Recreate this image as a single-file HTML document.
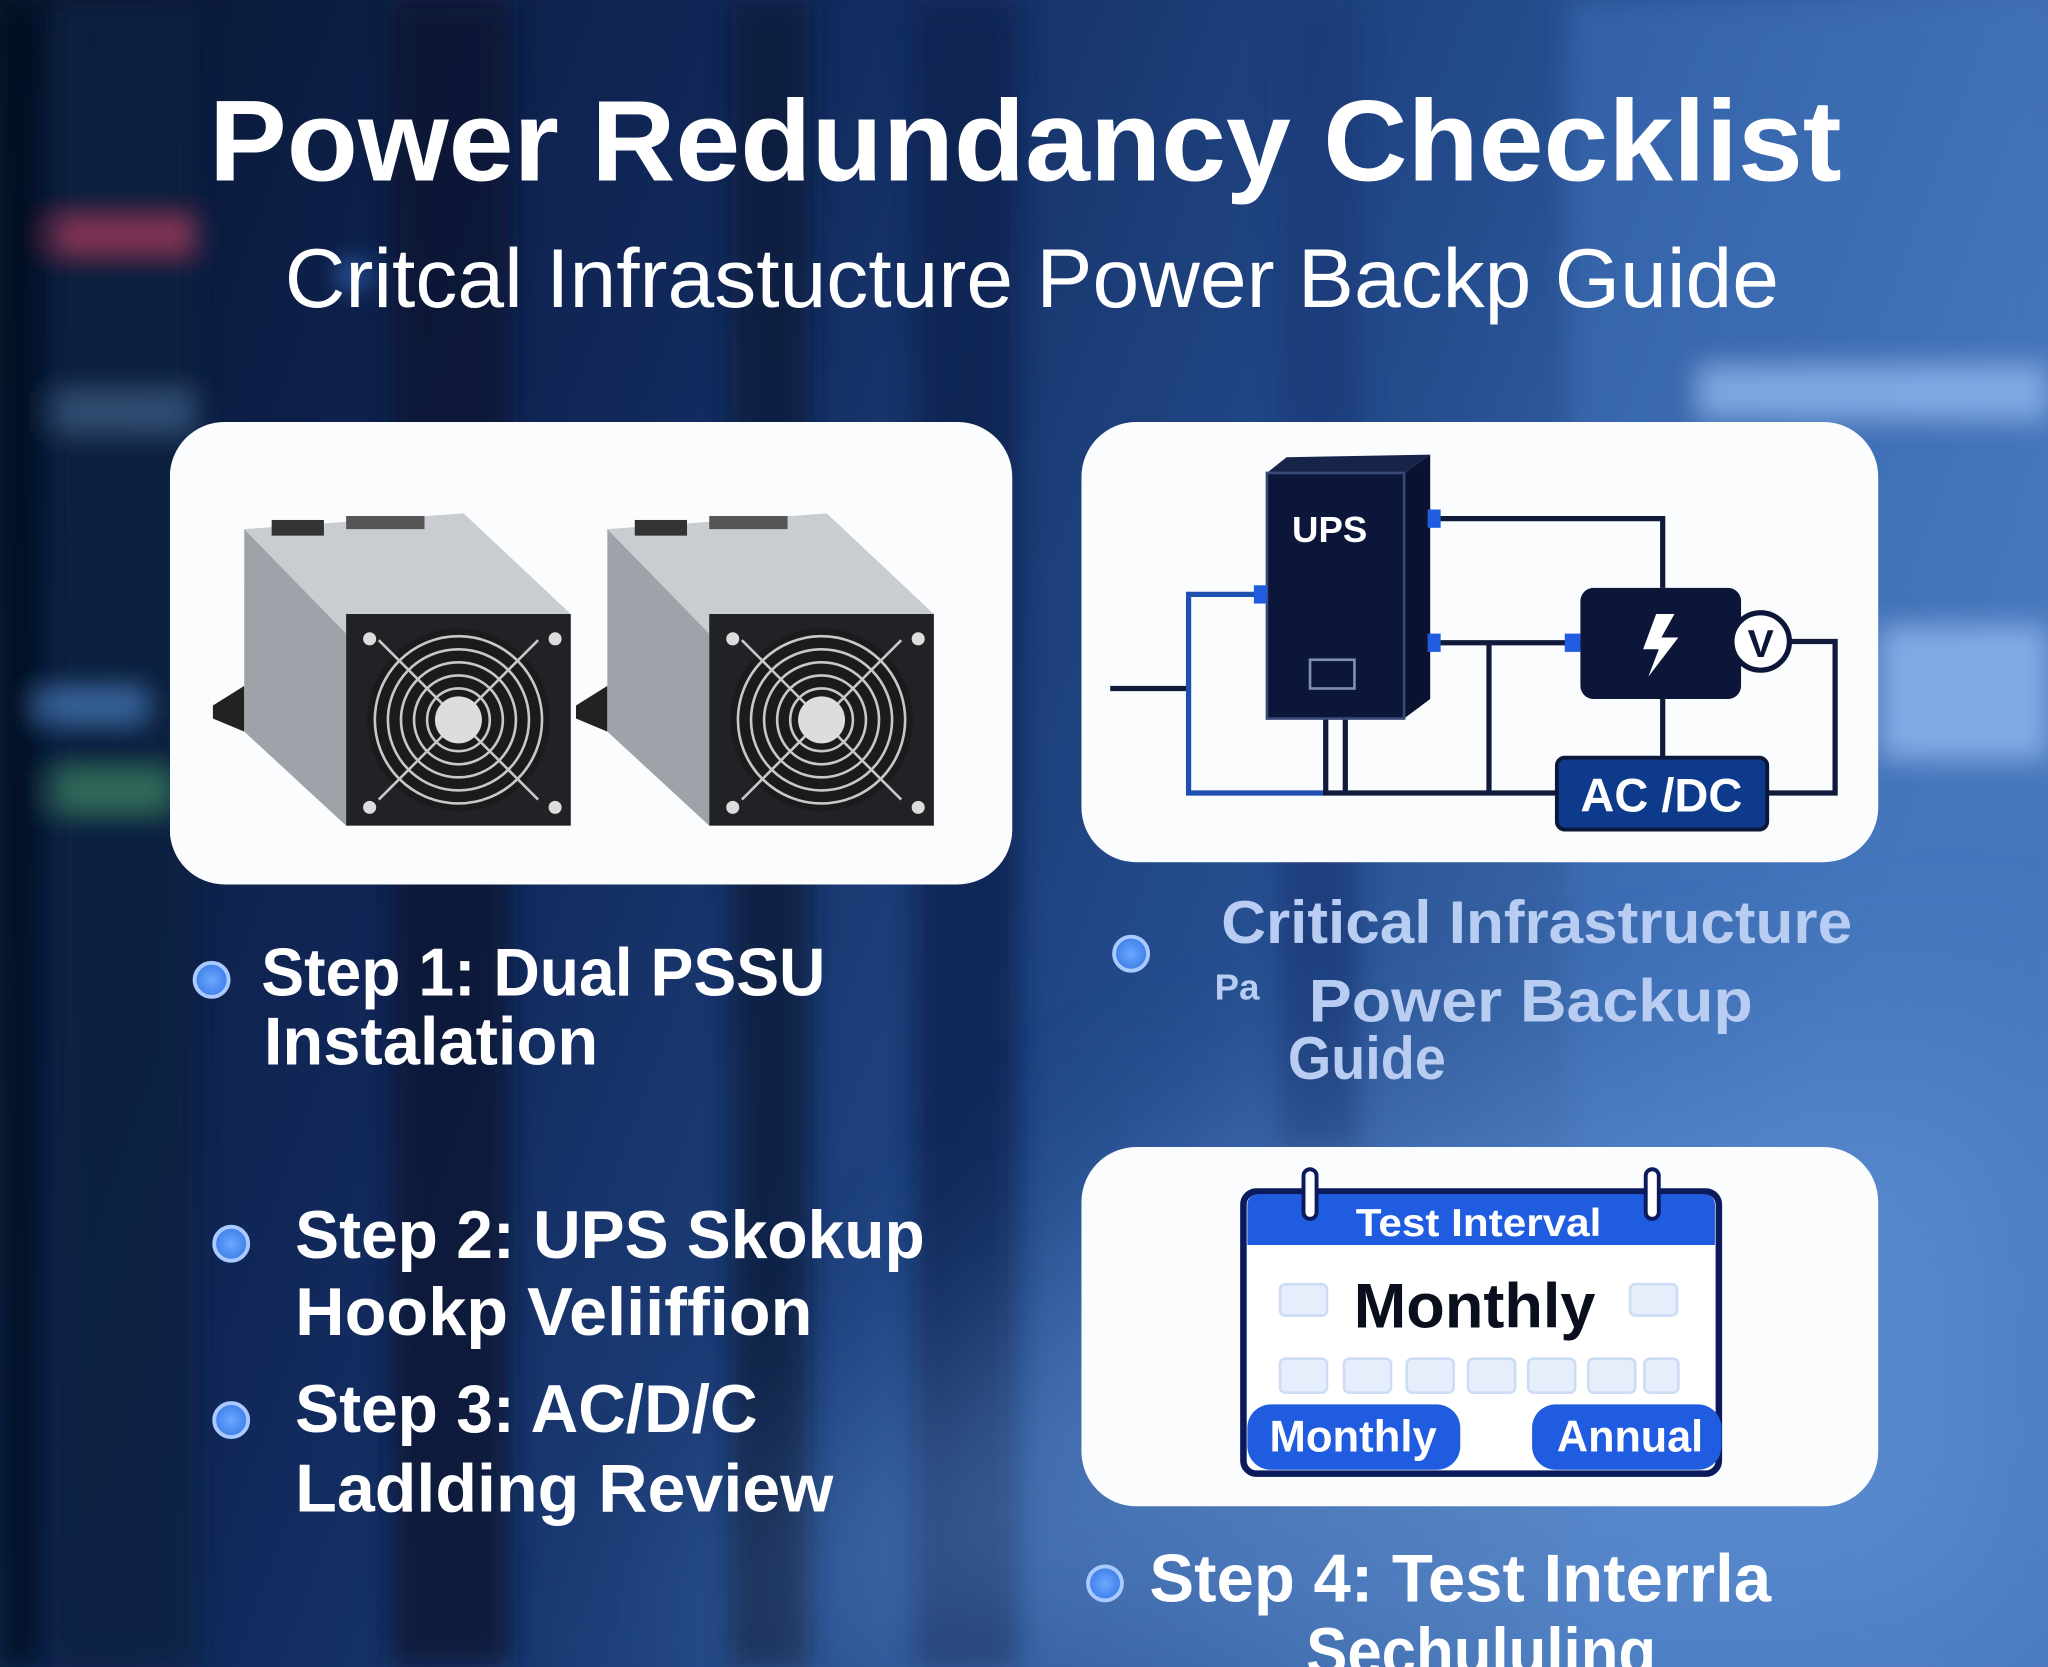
<!DOCTYPE html>
<html><head><meta charset="utf-8"><style>html,body{margin:0;padding:0;background:#0b1c3f}svg{display:block}</style></head><body>
<svg width="2048" height="1667" viewBox="0 0 1568 1276" preserveAspectRatio="none" xmlns="http://www.w3.org/2000/svg" font-family="Liberation Sans, sans-serif">
<defs>
<linearGradient id="bg" x1="0" y1="0" x2="1" y2="0.3">
<stop offset="0" stop-color="#081530"/><stop offset="0.35" stop-color="#11285a"/><stop offset="0.7" stop-color="#244d8e"/><stop offset="1" stop-color="#4a7abb"/></linearGradient>
<filter id="bl"><feGaussianBlur stdDeviation="10"/></filter>
<filter id="bl2" x="-50%" y="-50%" width="200%" height="200%"><feGaussianBlur stdDeviation="80"/></filter>
<radialGradient id="dot"><stop offset="0" stop-color="#6aa8ff"/><stop offset="1" stop-color="#3e7fe8"/></radialGradient>
</defs>
<rect width="1568" height="1276" fill="url(#bg)"/>
<g filter="url(#bl)" opacity="0.8">
<rect x="0" y="0" width="30" height="1276" fill="#06101f"/>
<rect x="40" y="0" width="110" height="1276" fill="#0d213f"/>
<rect x="300" y="0" width="90" height="1276" fill="#081530"/>
<rect x="560" y="0" width="60" height="1276" fill="#0a1a3a"/>
<rect x="700" y="0" width="80" height="1276" fill="#0c2150"/>
<rect x="980" y="0" width="60" height="880" fill="#1a3a78"/>
<rect x="1200" y="0" width="368" height="1276" fill="#3f74c0" opacity="0.6"/>
<rect x="40" y="170" width="110" height="20" fill="#b04060"/>
<rect x="40" y="300" width="110" height="30" fill="#3a5a80"/>
<rect x="30" y="530" width="80" height="20" fill="#4a80c0"/>
<rect x="40" y="590" width="90" height="30" fill="#3a8060"/>
<rect x="1300" y="280" width="268" height="40" fill="#90b8f0"/>
<rect x="1440" y="480" width="128" height="100" fill="#90b8f0"/>
<circle cx="270" cy="210" r="10" fill="#4a90ff"/>
</g>
<polygon points="500,1276 900,900 1568,800 1568,1276" fill="#6f9fe0" opacity="0.45" filter="url(#bl2)"/>

<text x="160" y="138" font-size="88" font-weight="bold" fill="#fff" textLength="1250" lengthAdjust="spacingAndGlyphs">Power Redundancy Checklist</text>
<text x="218" y="235" font-size="64" fill="#fff" textLength="1144" lengthAdjust="spacingAndGlyphs">Critcal Infrastucture Power Backp Guide</text>

<rect x="130" y="323" width="645" height="354" rx="42" fill="#fbfcfe"/>
<rect x="828" y="323" width="610" height="337" rx="42" fill="#fbfcfe"/>
<rect x="828" y="878" width="610" height="275" rx="42" fill="#fbfcfe"/>

<g id="psu">
<polygon points="163,540 187,525 187,560 163,550" fill="#222"/>
<polygon points="187,405 355,393 437,470 265,485" fill="#c9ccd0"/>
<polygon points="187,405 265,485 265,632 187,560" fill="#9ea3a9"/>
<rect x="265" y="470" width="172" height="162" fill="#202225"/>
<rect x="208" y="398" width="40" height="12" fill="#333"/>
<rect x="265" y="395" width="60" height="10" fill="#555"/>
<circle cx="351" cy="551" r="70" fill="#1a1b1d"/>
<g fill="none" stroke="#c8c8c8" stroke-width="2">
<circle cx="351" cy="551" r="64"/><circle cx="351" cy="551" r="54"/><circle cx="351" cy="551" r="44"/><circle cx="351" cy="551" r="34"/><circle cx="351" cy="551" r="24"/>
<line x1="290" y1="490" x2="412" y2="612"/><line x1="412" y1="490" x2="290" y2="612"/></g>
<circle cx="351" cy="551" r="18" fill="#ddd"/>
<circle cx="283" cy="489" r="5" fill="#ddd"/><circle cx="425" cy="489" r="5" fill="#ddd"/><circle cx="283" cy="618" r="5" fill="#ddd"/><circle cx="425" cy="618" r="5" fill="#ddd"/>
</g>
<use href="#psu" x="278" y="0"/>

<g fill="none" stroke-width="4">
<path d="M1095 397 H1273 V450" stroke="#101a3a"/>
<path d="M1095 492 H1210" stroke="#101a3a"/>
<path d="M850 527 H910" stroke="#101a3a"/>
<path d="M970 455 H910 V607 H1015" stroke="#1f4fb0"/>
<path d="M1015 550 V607 H1192" stroke="#101a3a"/>
<path d="M1030 550 V607" stroke="#101a3a"/>
<path d="M1140 492 V607" stroke="#101a3a"/>
<path d="M1273 535 V580" stroke="#101a3a"/>
<path d="M1370 491 H1405 V607 H1353" stroke="#101a3a"/>
</g>
<polygon points="970,362 985,350 1095,348 1075,362" fill="#17244a"/>
<polygon points="1075,362 1095,348 1095,535 1075,550" fill="#0a1230"/>
<rect x="970" y="362" width="105" height="188" fill="#0b1638" stroke="#3a4a78" stroke-width="2"/>
<text x="1018" y="415" font-size="28" font-weight="bold" fill="#fff" text-anchor="middle">UPS</text>
<rect x="1003" y="505" width="34" height="22" fill="none" stroke="#8090b0" stroke-width="2"/>
<rect x="1093" y="390" width="10" height="14" fill="#1f5ce0"/><rect x="1093" y="485" width="10" height="14" fill="#1f5ce0"/>
<rect x="960" y="448" width="10" height="14" fill="#1f5ce0"/><rect x="1198" y="485" width="12" height="14" fill="#1f5ce0"/>
<rect x="1210" y="450" width="123" height="85" rx="10" fill="#0b1638"/>
<polygon points="1268,470 1258,497 1270,497 1262,518 1285,488 1272,488 1282,470" fill="#fff"/>
<circle cx="1348" cy="491" r="22" fill="#fff" stroke="#0b1638" stroke-width="4"/>
<text x="1348" y="503" font-size="30" font-weight="bold" fill="#0b1638" text-anchor="middle">V</text>
<rect x="1192" y="580" width="161" height="55" rx="6" fill="#0d3a8a" stroke="#0b1638" stroke-width="3"/>
<text x="1272" y="621" font-size="36" font-weight="bold" fill="#fff" text-anchor="middle">AC  /DC</text>

<rect x="952" y="912" width="364" height="216" rx="10" fill="#fff" stroke="#0b1a5a" stroke-width="5"/>
<path d="M955 953 V922 a8 8 0 0 1 8 -8 H1305 a8 8 0 0 1 8 8 V953 Z" fill="#1f5ce0"/>
<rect x="998" y="895" width="10" height="38" rx="5" fill="#fff" stroke="#0b1a5a" stroke-width="3"/>
<rect x="1260" y="895" width="10" height="38" rx="5" fill="#fff" stroke="#0b1a5a" stroke-width="3"/>
<text x="1132" y="946" font-size="30" font-weight="bold" fill="#fff" text-anchor="middle" textLength="188" lengthAdjust="spacingAndGlyphs">Test Interval</text>
<g fill="#e6eefc" stroke="#cddcf5" stroke-width="2">
<rect x="980" y="983" width="36" height="24" rx="4"/><rect x="1248" y="983" width="36" height="24" rx="4"/>
<rect x="980" y="1040" width="36" height="26" rx="4"/><rect x="1029" y="1040" width="36" height="26" rx="4"/><rect x="1077" y="1040" width="36" height="26" rx="4"/><rect x="1124" y="1040" width="36" height="26" rx="4"/><rect x="1170" y="1040" width="36" height="26" rx="4"/><rect x="1216" y="1040" width="36" height="26" rx="4"/><rect x="1259" y="1040" width="26" height="26" rx="4"/>
</g>
<text x="1129" y="1016" font-size="48" font-weight="bold" fill="#0a0f1e" text-anchor="middle" textLength="185" lengthAdjust="spacingAndGlyphs">Monthly</text>
<rect x="955" y="1075" width="163" height="50" rx="18" fill="#1f5ce0"/>
<rect x="1173" y="1075" width="145" height="50" rx="18" fill="#1f5ce0"/>
<text x="1036" y="1111" font-size="34" font-weight="bold" fill="#fff" text-anchor="middle" textLength="128" lengthAdjust="spacingAndGlyphs">Monthly</text>
<text x="1248" y="1111" font-size="34" font-weight="bold" fill="#fff" text-anchor="middle" textLength="112" lengthAdjust="spacingAndGlyphs">Annual</text>

<g fill="url(#dot)" stroke="#a9c9ff" stroke-width="3">
<circle cx="162" cy="750" r="13"/><circle cx="866" cy="730" r="13"/><circle cx="177" cy="952" r="13"/><circle cx="177" cy="1087" r="13"/><circle cx="846" cy="1212" r="13"/>
</g>
<g font-weight="bold" font-size="52" fill="#fff">
<text x="200" y="762" textLength="432" lengthAdjust="spacingAndGlyphs">Step 1: Dual PSSU</text>
<text x="202" y="815" textLength="256" lengthAdjust="spacingAndGlyphs">Instalation</text>
<text x="226" y="963" textLength="482" lengthAdjust="spacingAndGlyphs">Step 2: UPS Skokup</text>
<text x="226" y="1022" textLength="396" lengthAdjust="spacingAndGlyphs">Hookp  Veliiffion</text>
<text x="226" y="1096" textLength="354" lengthAdjust="spacingAndGlyphs">Step 3: AC/D/C</text>
<text x="226" y="1157" textLength="412" lengthAdjust="spacingAndGlyphs">Ladlding Review</text>
<text x="880" y="1226" textLength="476" lengthAdjust="spacingAndGlyphs">Step 4: Test Interrla</text>
<text x="1000" y="1282" textLength="268" lengthAdjust="spacingAndGlyphs">Sechululing</text>
</g>
<g font-weight="bold" font-size="46" fill="#b9cdf3">
<text x="935" y="722" textLength="483" lengthAdjust="spacingAndGlyphs">Critical Infrastructure</text>
<text x="930" y="765" font-size="28">Pa</text>
<text x="1002" y="782" textLength="340" lengthAdjust="spacingAndGlyphs">Power Backup</text>
<text x="986" y="826" textLength="121" lengthAdjust="spacingAndGlyphs">Guide</text>
</g>
</svg>
</body></html>
